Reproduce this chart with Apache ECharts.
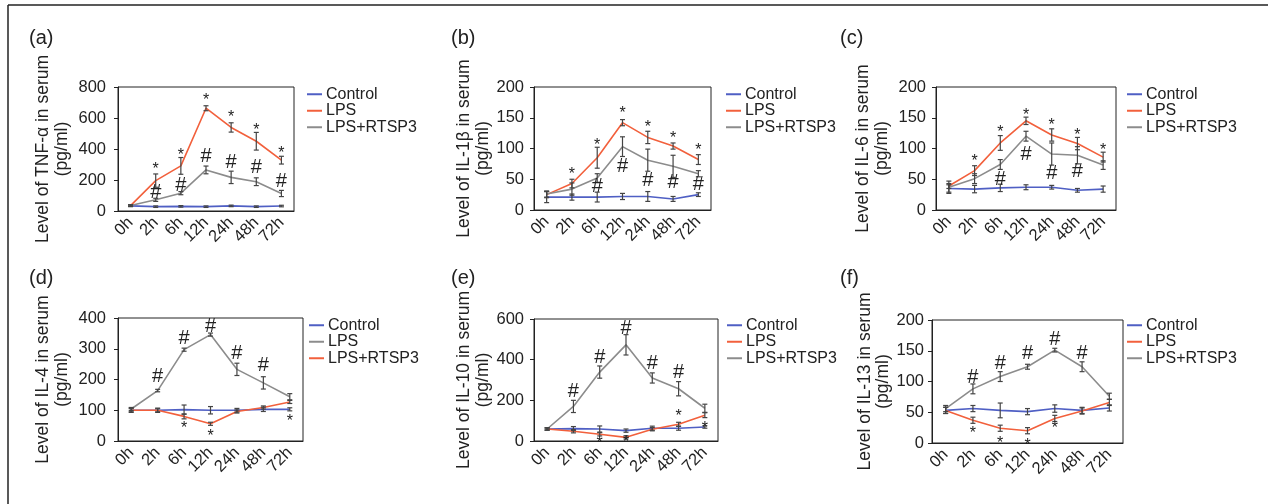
<!DOCTYPE html>
<html><head><meta charset="utf-8">
<script src="https://cdn.jsdelivr.net/npm/echarts@6/dist/echarts.min.js"></script>
<style>html,body{margin:0;padding:0;background:#fff}#c{width:1268px;height:504px}</style>
</head><body><div id="c"></div>
<script>
// ---------- DATA ----------
const categories = ['0h', '2h', '6h', '12h', '24h', '48h', '72h'];

// (a) TNF-α
const aControl = [33, 28, 30, 28, 33, 28, 32];
const aControlErr = [5, 5, 5, 5, 5, 5, 5];
const aLPS = [35, 196, 291, 663, 539, 450, 328];
const aLPSErr = [5, 43, 54, 16, 30, 57, 25];
const aRTSP3 = [35, 72, 115, 265, 217, 189, 113];
const aRTSP3Err = [5, 10, 10, 25, 40, 25, 20];
const aStars = [null, 293, 385, 739, 630, 543, 398];
const aHashes = [null, 120, 167, 354, 315, 278, 189];

// (b) IL-1β
const bControl = [21, 21, 21, 22, 22, 18, 25];
const bControlErr = [9, 5, 8, 5, 8, 4, 3];
const bLPS = [25, 43, 85, 142, 118, 104, 82];
const bLPSErr = [5, 7, 17, 5, 10, 5, 8];
const bRTSP3 = [26, 34, 52, 103, 81, 71, 59];
const bRTSP3Err = [5, 10, 7, 16, 18, 18, 5];
const bStars = [null, 64, 111, 163, 141, 123, 103];
const bHashes = [null, null, 39, 71, 48, 44, 41];

// (c) IL-6
const cControl = [35, 34, 36, 37, 37, 32, 34];
const cControlErr = [6, 6, 6, 4, 3, 3, 5];
const cLPS = [39, 64, 109, 145, 122, 108, 86];
const cLPSErr = [4, 8, 12, 6, 10, 10, 8];
const cRTSP3 = [37, 51, 74, 120, 91, 89, 73];
const cRTSP3Err = [10, 8, 8, 8, 18, 14, 7];
const cStars = [null, 85, 133, 160, 144, 128, 103];
const cHashes = [null, null, 50, 91, 60, 62, null];

// (d) IL-4  (legend: LPS gray, LPS+RTSP3 red)
const dControl = [100, 100, 102, 100, 100, 103, 103];
const dControlErr = [7, 7, 15, 12, 6, 7, 5];
const dLPS = [104, 164, 297, 346, 233, 189, 144];
const dLPSErr = [5, 4, 5, 5, 20, 20, 10];
const dRTSP3 = [100, 100, 80, 56, 96, 109, 127];
const dRTSP3Err = [5, 5, 8, 5, 5, 5, 5];
const dStars = [null, null, 52, 27, null, null, 77];
const dHashes = [null, 209, 334, 372, 285, 246, null];

// (e) IL-10
const eControl = [59, 61, 59, 51, 63, 63, 69];
const eControlErr = [6, 10, 15, 8, 10, 10, 6];
const eLPS = [59, 48, 33, 18, 58, 82, 127];
const eLPSErr = [5, 8, 8, 8, 8, 10, 12];
const eRTSP3 = [59, 170, 339, 473, 310, 257, 161];
const eRTSP3Err = [5, 30, 30, 50, 25, 35, 20];
const eStars = [null, null, 5, 10, null, 140, 82];
const eHashes = [null, 244, 412, 552, 379, 339, null];

// (f) IL-13
const fControl = [53, 56, 53, 51, 56, 53, 57];
const fControlErr = [5, 5, 12, 5, 6, 5, 5];
const fLPS = [53, 37, 24, 20, 40, 52, 66];
const fLPSErr = [5, 5, 5, 5, 5, 5, 5];
const fRTSP3 = [56, 88, 108, 124, 151, 124, 76];
const fRTSP3Err = [5, 8, 8, 4, 3, 8, 5];
const fStars = [null, 22, 6, 3, 30, null, null];
const fHashes = [null, 106, 130, 145, 169, 145, null];

// ---------- STYLE / LAYOUT ----------
const BLUE = '#4f5fc4', RED = '#f2603c', GRAY = '#8c8c8c', INK = '#222';
const FONT = '"Liberation Sans", Arial, Helvetica, sans-serif';

const panels = [
  { key: 'a', label: '(a)', labelPos: [29, 28], title: 'Level of TNF-α in serum\n(pg/ml)', max: 800, interval: 200,
    grid: { left: 118, top: 87, width: 176, height: 124 }, legend: { left: 307, top: 86 }, nameGap: 47, labelMargin: 12,
    series: [['Control', BLUE, aControl, aControlErr], ['LPS', RED, aLPS, aLPSErr], ['LPS+RTSP3', GRAY, aRTSP3, aRTSP3Err]],
    stars: aStars, hashes: aHashes },
  { key: 'b', label: '(b)', labelPos: [451, 28], title: 'Level of IL-1β in serum\n(pg/ml)', max: 200, interval: 50,
    grid: { left: 534, top: 87, width: 177, height: 123 }, legend: { left: 726, top: 86 }, nameGap: 42, labelMargin: 10,
    series: [['Control', BLUE, bControl, bControlErr], ['LPS', RED, bLPS, bLPSErr], ['LPS+RTSP3', GRAY, bRTSP3, bRTSP3Err]],
    stars: bStars, hashes: bHashes },
  { key: 'c', label: '(c)', labelPos: [840, 28], title: 'Level of IL-6 in serum\n(pg/ml)', max: 200, interval: 50,
    grid: { left: 936, top: 87, width: 180, height: 123 }, legend: { left: 1127, top: 86 }, nameGap: 45, labelMargin: 10,
    series: [['Control', BLUE, cControl, cControlErr], ['LPS', RED, cLPS, cLPSErr], ['LPS+RTSP3', GRAY, cRTSP3, cRTSP3Err]],
    stars: cStars, hashes: cHashes },
  { key: 'd', label: '(d)', labelPos: [29, 268], title: 'Level of IL-4 in serum\n(pg/ml)', max: 400, interval: 100,
    grid: { left: 118, top: 318, width: 185, height: 123 }, legend: { left: 309, top: 317 }, nameGap: 47, labelMargin: 12,
    series: [['Control', BLUE, dControl, dControlErr], ['LPS', GRAY, dLPS, dLPSErr], ['LPS+RTSP3', RED, dRTSP3, dRTSP3Err]],
    stars: dStars, hashes: dHashes },
  { key: 'e', label: '(e)', labelPos: [451, 268], title: 'Level of IL-10 in serum\n(pg/ml)', max: 600, interval: 200,
    grid: { left: 534, top: 319, width: 184, height: 122 }, legend: { left: 727, top: 317 }, nameGap: 42, labelMargin: 10,
    series: [['Control', BLUE, eControl, eControlErr], ['LPS', RED, eLPS, eLPSErr], ['LPS+RTSP3', GRAY, eRTSP3, eRTSP3Err]],
    stars: eStars, hashes: eHashes },
  { key: 'f', label: '(f)', labelPos: [840, 268], title: 'Level of IL-13 in serum\n(pg/ml)', max: 200, interval: 50,
    grid: { left: 932, top: 320, width: 191, height: 123 }, legend: { left: 1127, top: 317 }, nameGap: 39, labelMargin: 8,
    series: [['Control', BLUE, fControl, fControlErr], ['LPS', RED, fLPS, fLPSErr], ['LPS+RTSP3', GRAY, fRTSP3, fRTSP3Err]],
    stars: fStars, hashes: fHashes }
];

// ---------- OPTION ----------
const option = {
  animation: false,
  backgroundColor: '#fff',
  textStyle: { fontFamily: FONT },
  grid: [], xAxis: [], yAxis: [], legend: [], series: [], graphic: []
};

function errRender(params, api) {
  const x = api.value(0), v = api.value(1), e = api.value(2);
  const lo = api.coord([x, v - e]), hi = api.coord([x, v + e]);
  const c = 2.5;
  const st = { stroke: '#444', lineWidth: 1.2 };
  return { type: 'group', children: [
    { type: 'line', shape: { x1: lo[0], y1: lo[1], x2: hi[0], y2: hi[1] }, style: st },
    { type: 'line', shape: { x1: lo[0] - c, y1: lo[1], x2: lo[0] + c, y2: lo[1] }, style: st },
    { type: 'line', shape: { x1: hi[0] - c, y1: hi[1], x2: hi[0] + c, y2: hi[1] }, style: st }
  ]};
}

function markRender(sym) {
  return function (params, api) {
    const p = api.coord([api.value(0), api.value(1)]);
    const isStar = sym === '*';
    return { type: 'text', style: {
      text: sym, x: p[0], y: p[1] + (isStar ? 4 : 0), align: 'center', verticalAlign: 'middle',
      font: (isStar ? '16px ' : '20px ') + FONT, fill: INK } };
  };
}

panels.forEach((p, i) => {
  option.grid.push(Object.assign({ show: true, borderColor: INK, borderWidth: 1, backgroundColor: 'transparent' }, p.grid));
  option.xAxis.push({
    type: 'category', gridIndex: i, data: categories, boundaryGap: true,
    axisLine: { lineStyle: { color: INK, width: 1 } },
    axisTick: { alignWithLabel: true, length: 4, lineStyle: { color: INK } },
    axisLabel: { rotate: 45, fontSize: 16.5, color: INK, margin: 9, interval: 0, fontFamily: FONT }
  });
  option.yAxis.push({
    type: 'value', gridIndex: i, min: 0, max: p.max, interval: p.interval,
    splitLine: { show: false },
    axisLine: { show: true, lineStyle: { color: INK, width: 1 } },
    axisTick: { show: true, length: 4, lineStyle: { color: INK } },
    axisLabel: { fontSize: 16.5, color: INK, margin: p.labelMargin, fontFamily: FONT },
    name: p.title, nameLocation: 'middle', nameRotate: 90, nameGap: p.nameGap,
    nameTextStyle: { fontSize: 17.5, color: INK, lineHeight: 18.5, fontFamily: FONT }
  });
  const names = [];
  p.series.forEach(([name, color, vals, errs]) => {
    const sid = name + '|' + p.key;
    names.push(sid);
    option.series.push({
      name: sid, type: 'line', xAxisIndex: i, yAxisIndex: i, data: vals,
      symbol: 'none', lineStyle: { color: color, width: 1.6 }, itemStyle: { color: color }, z: 2
    });
    option.series.push({
      type: 'custom', xAxisIndex: i, yAxisIndex: i, z: 3,
      data: vals.map((v, j) => [j, v, errs[j]]),
      renderItem: errRender
    });
  });
  option.series.push({
    type: 'custom', xAxisIndex: i, yAxisIndex: i, z: 4, clip: false,
    data: p.stars.map((v, j) => v == null ? null : [j, v]).filter(d => d),
    renderItem: markRender('*')
  });
  option.series.push({
    type: 'custom', xAxisIndex: i, yAxisIndex: i, z: 4, clip: false,
    data: p.hashes.map((v, j) => v == null ? null : [j, v]).filter(d => d),
    renderItem: markRender('#')
  });
  option.legend.push({
    left: p.legend.left, top: p.legend.top, orient: 'vertical', padding: 0, itemGap: 0,
    itemWidth: 15, itemHeight: 2, icon: 'rect', selectedMode: false, data: names,
    formatter: n => n.split('|')[0],
    textStyle: { fontSize: 16, color: INK, lineHeight: 16.5, fontFamily: FONT, padding: [0, 0, 0, -1] }
  });
  option.graphic.push({ type: 'text', left: p.labelPos[0], top: p.labelPos[1],
    style: { text: p.label, font: '20px ' + FONT, fill: INK } });
});

// outer frame
option.graphic.push({ type: 'line', shape: { x1: 8, y1: 5, x2: 1268, y2: 5 }, style: { stroke: INK, lineWidth: 1.5 } });
option.graphic.push({ type: 'line', shape: { x1: 8, y1: 5, x2: 8, y2: 504 }, style: { stroke: INK, lineWidth: 1.5 } });

const chart = echarts.init(document.getElementById('c'), null, { renderer: 'canvas' });
chart.setOption(option);
</script>
</body></html>
